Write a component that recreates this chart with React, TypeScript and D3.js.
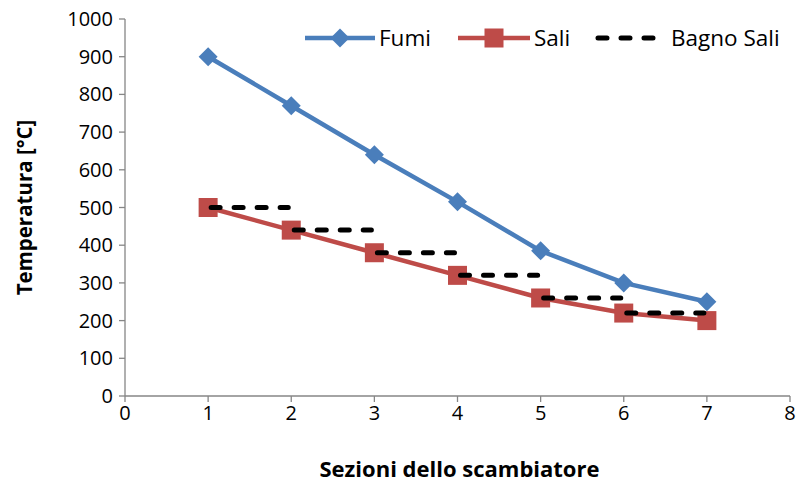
import * as React from "react";
import * as d3 from "d3";

const sections = [1, 2, 3, 4, 5, 6, 7];
const fumi = [900, 770, 640, 515, 385, 300, 250];
const sali = [500, 440, 380, 320, 260, 220, 200];
// bagno sali: one horizontal step per section, [from, to, value]
const bagnoSali: [number, number, number][] = [
  [1, 2, 500],
  [2, 3, 440],
  [3, 4, 380],
  [4, 5, 320],
  [5, 6, 260],
  [6, 7, 220],
];
const xTicks = [0, 1, 2, 3, 4, 5, 6, 7, 8];
const yTicks = [0, 100, 200, 300, 400, 500, 600, 700, 800, 900, 1000];

const W = 804;
const H = 491;
const font = "Open Sans, sans-serif";
const axisColor = "#868686";
const blue = "#4A7EBB";
const red = "#BE4B48";

export default function App() {
  const x = d3.scaleLinear().domain([0, 8]).range([125, 790]);
  const y = d3.scaleLinear().domain([0, 1000]).range([396, 19]);

  const line = d3
    .line<number>()
    .x((_, i) => x(sections[i]))
    .y((d) => y(d));

  const diamond = (cx: number, cy: number) =>
    `M${cx},${cy - 9.5}L${cx + 9.5},${cy}L${cx},${cy + 9.5}L${cx - 9.5},${cy}Z`;

  return (
    <svg width={W} height={H} style={{ position: "absolute", left: 0, top: 0 }}>
      <rect width={W} height={H} fill="#fff" />
      {/* axes */}
      <line x1={x(0)} x2={x(0)} y1={y(1000)} y2={y(0)} stroke={axisColor} strokeWidth={1.3} />
      <line x1={x(0)} x2={x(8)} y1={y(0)} y2={y(0)} stroke={axisColor} strokeWidth={1.3} />
      {yTicks.map((t) => (
        <g key={"y" + t}>
          <line x1={x(0) - 6} x2={x(0)} y1={y(t)} y2={y(t)} stroke={axisColor} strokeWidth={1.3} />
          <text
            x={x(0) - 12}
            y={y(t)}
            dy="0.35em"
            textAnchor="end"
            fontFamily={font}
            fontSize={20}
            fill="#000"
          >
            {t}
          </text>
        </g>
      ))}
      {xTicks.map((t) => (
        <g key={"x" + t}>
          <line x1={x(t)} x2={x(t)} y1={y(0)} y2={y(0) + 6} stroke={axisColor} strokeWidth={1.3} />
          <text
            x={x(t)}
            y={420}
            textAnchor="middle"
            fontFamily={font}
            fontSize={20}
            fill="#000"
          >
            {t}
          </text>
        </g>
      ))}
      <text
        transform={`translate(32,${(113 + 302) / 2}) rotate(-90)`}
        textAnchor="middle"
        fontFamily={font}
        fontSize={20.5}
        fontWeight="bold"
      >
        Temperatura [°C]
      </text>
      <text
        x={(317 + 602) / 2}
        y={477}
        textAnchor="middle"
        fontFamily={font}
        fontSize={22}
        fontWeight="bold"
      >
        Sezioni dello scambiatore
      </text>

      {/* Fumi */}
      <path d={line(fumi) || ""} fill="none" stroke={blue} strokeWidth={4.5} />
      {fumi.map((v, i) => (
        <path key={"f" + i} d={diamond(x(sections[i]), y(v))} fill={blue} />
      ))}

      {/* Sali */}
      <path d={line(sali) || ""} fill="none" stroke={red} strokeWidth={4.5} />
      {sali.map((v, i) => (
        <rect
          key={"s" + i}
          x={x(sections[i]) - 9.5}
          y={y(v) - 9.5}
          width={19}
          height={19}
          fill={red}
        />
      ))}

      {/* Bagno Sali */}
      {bagnoSali.map(([a, b, v], i) => (
        <line
          key={"b" + i}
          x1={x(a) + 3}
          x2={x(b) - 3}
          y1={y(v)}
          y2={y(v)}
          stroke="#000"
          strokeWidth={5}
          strokeLinecap="round"
          strokeDasharray="9 14"
        />
      ))}

      {/* legend */}
      <g fontFamily={font} fontSize={22.5}>
        <line x1={305} x2={375} y1={38} y2={38} stroke={blue} strokeWidth={4.5} />
        <path d={diamond(340, 38)} fill={blue} />
        <text x={379} y={38} dy="0.35em">Fumi</text>
        <line x1={458} x2={530} y1={38} y2={38} stroke={red} strokeWidth={4.5} />
        <rect x={484.5} y={28.5} width={19} height={19} fill={red} />
        <text x={534} y={38} dy="0.35em">Sali</text>
        <line
          x1={598}
          x2={656}
          y1={38}
          y2={38}
          stroke="#000"
          strokeWidth={5}
          strokeLinecap="round"
          strokeDasharray="9 14"
        />
        <text x={671} y={38} dy="0.35em">Bagno Sali</text>
      </g>
    </svg>
  );
}
